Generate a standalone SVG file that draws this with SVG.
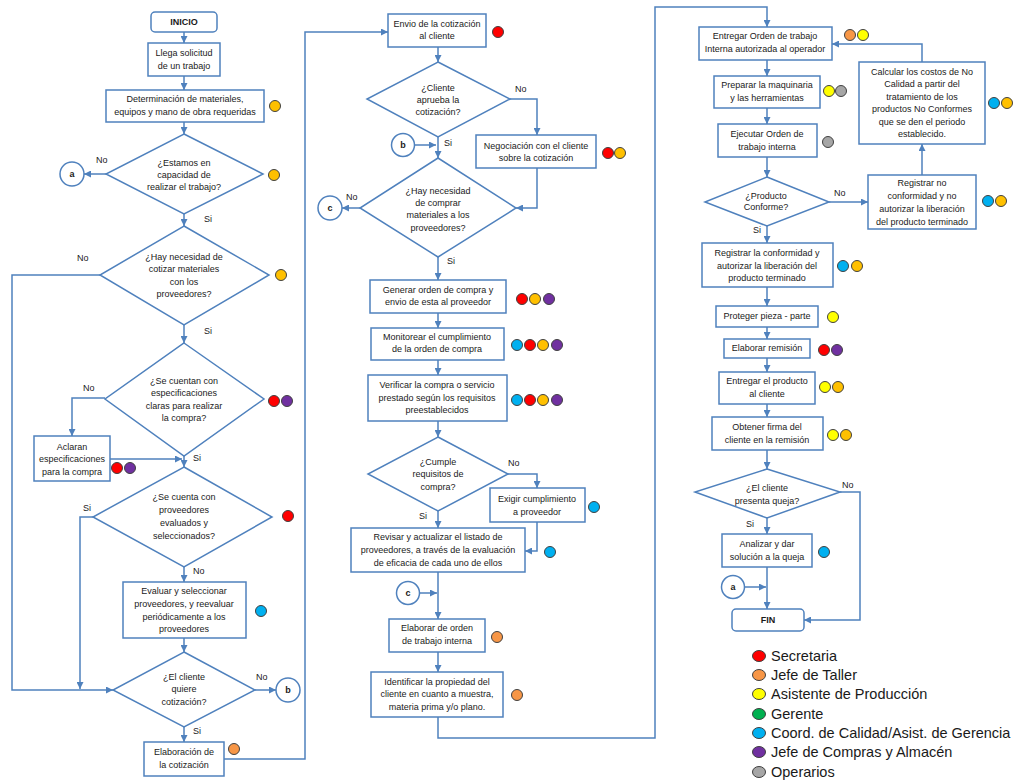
<svg xmlns="http://www.w3.org/2000/svg" width="1014" height="781" viewBox="0 0 1014 781">
  <style>
    .box { fill: #ffffff; stroke: #4F81BD; stroke-width: 1.5; }
    .con { fill: none; stroke: #4F81BD; stroke-width: 1.5; }
    .t { font-family: "Liberation Sans", Arial, sans-serif; font-size: 9px; fill: #1a1a1a; text-anchor: middle; }
    .b { font-weight: bold; }
    .lbl { font-family: "Liberation Sans", Arial, sans-serif; font-size: 9px; fill: #1a1a1a; }
    .leg { font-family: "Liberation Sans", Arial, sans-serif; font-size: 14.5px; fill: #1a1a1a; }
    .dot { stroke: #404040; stroke-width: 1; }
    .red { fill: #FF0000; }
    .gold { fill: #FFC000; }
    .org { fill: #F79646; }
    .yel { fill: #FFFF00; }
    .grn { fill: #00B050; }
    .blu { fill: #00B0F0; }
    .pur { fill: #7030A0; }
    .gry { fill: #A6A6A6; }
  </style>
  <defs>
    <marker id="ah" markerWidth="7" markerHeight="7" refX="7" refY="3.5" orient="auto" markerUnits="userSpaceOnUse">
      <path d="M0,0 L7,3.5 L0,7 z" fill="#4F81BD"/>
    </marker>
  </defs>

  <rect width="1014" height="781" fill="#ffffff"/>

  <!-- connectors -->
  <g id="connectors" class="con" marker-end="url(#ah)">
    <path d="M184,32 V43"/>
    <path d="M184,76 V90"/>
    <path d="M184,122 V134"/>
    <path d="M106,174 H84"/>
    <path d="M184,214 V226"/>
    <path d="M100,275 H12 V690 H113"/>
    <path d="M184,325 V343"/>
    <path d="M105,398 H72 V436"/>
    <path d="M110,459 H182"/>
    <path d="M184,456 V467"/>
    <path d="M93,517 H80 V689"/>
    <path d="M184,567 V582"/>
    <path d="M184,638 V652"/>
    <path d="M255,690 H276"/>
    <path d="M184,727 V742"/>
    <path d="M224,759 H305 V32 H388"/>

    <path d="M438,47 V62"/>
    <path d="M510,99 H537 V135"/>
    <path d="M438,137 V158"/>
    <path d="M415,145 H436"/>
    <path d="M537,168 V208 H516"/>
    <path d="M360,208 H342"/>
    <path d="M438,257 V280"/>
    <path d="M438,313 V328"/>
    <path d="M438,360 V375"/>
    <path d="M438,421 V437"/>
    <path d="M508,474 H537 V488"/>
    <path d="M537,522 V551 H525"/>
    <path d="M438,511 V528"/>
    <path d="M438,572 V619"/>
    <path d="M419,593 H437"/>
    <path d="M438,652 V672"/>
    <path d="M438,717 V738 H655 V7 H767 V27"/>

    <path d="M767,60 V76"/>
    <path d="M767,108 V124"/>
    <path d="M767,157 V177"/>
    <path d="M829,202 H868"/>
    <path d="M922,175 V144"/>
    <path d="M922,62 V44 H832"/>
    <path d="M767,226 V243"/>
    <path d="M767,287 V306"/>
    <path d="M767,327 V339"/>
    <path d="M767,358 V372"/>
    <path d="M767,404 V417"/>
    <path d="M767,450 V469"/>
    <path d="M840,492 H860 V620 H804"/>
    <path d="M767,518 V534"/>
    <path d="M767,567 V609"/>
    <path d="M745,587 H766"/>
  </g>

  <!-- branch labels -->
  <g id="labels" class="lbl">
    <text x="96" y="163">No</text>
    <text x="204" y="222">Si</text>
    <text x="77" y="261">No</text>
    <text x="204" y="334">Si</text>
    <text x="83" y="391">No</text>
    <text x="193" y="461">Si</text>
    <text x="83" y="511">Si</text>
    <text x="193" y="574">No</text>
    <text x="256" y="680">No</text>
    <text x="193" y="734">Si</text>
    <text x="515" y="92">No</text>
    <text x="444" y="146">Si</text>
    <text x="346" y="200">No</text>
    <text x="447" y="264">Si</text>
    <text x="508" y="466">No</text>
    <text x="419" y="519">Si</text>
    <text x="834" y="196">No</text>
    <text x="753" y="233">Si</text>
    <text x="842" y="488">No</text>
    <text x="746" y="527">Si</text>
  </g>

  <!-- left column -->
  <g id="inicio">
    <rect class="box" x="151" y="12" width="66" height="20" rx="4"/>
    <text class="t b" x="184" y="25">INICIO</text>
  </g>
  <g id="llega">
    <rect class="box" x="148" y="43" width="72" height="33"/>
    <text class="t" x="184" y="56">Llega solicitud</text>
    <text class="t" x="184" y="69">de un trabajo</text>
  </g>
  <g id="determinacion">
    <rect class="box" x="106" y="90" width="158" height="32"/>
    <text class="t" x="185" y="102">Determinación de materiales,</text>
    <text class="t" x="185" y="115">equipos y mano de obra requeridas</text>
    <circle class="dot gold" cx="275" cy="106" r="5.5"/>
  </g>
  <g id="capacidad">
    <polygon class="box" points="184,134 263,174 184,214 106,174"/>
    <text class="t" x="184" y="166">¿Estamos en</text>
    <text class="t" x="184" y="178">capacidad de</text>
    <text class="t" x="184" y="190">realizar el trabajo?</text>
    <circle class="dot gold" cx="274" cy="175" r="5.5"/>
  </g>
  <g id="conector-a1">
    <circle class="box" cx="72" cy="174" r="12"/>
    <text class="t b" x="72" y="177">a</text>
  </g>
  <g id="cotizar-materiales">
    <polygon class="box" points="184,226 269,275 184,325 100,275"/>
    <text class="t" x="184" y="260">¿Hay necesidad de</text>
    <text class="t" x="184" y="272">cotizar materiales</text>
    <text class="t" x="184" y="285">con los</text>
    <text class="t" x="184" y="297">proveedores?</text>
    <circle class="dot gold" cx="281" cy="275" r="5.5"/>
  </g>
  <g id="especificaciones">
    <polygon class="box" points="184,343 264,399 184,456 105,399"/>
    <text class="t" x="184" y="384">¿Se cuentan con</text>
    <text class="t" x="184" y="396">especificaciones</text>
    <text class="t" x="184" y="409">claras para realizar</text>
    <text class="t" x="184" y="421">la compra?</text>
    <circle class="dot red" cx="274" cy="401" r="5.5"/>
    <circle class="dot pur" cx="287" cy="401" r="5.5"/>
  </g>
  <g id="aclaran">
    <rect class="box" x="34" y="436" width="76" height="45"/>
    <text class="t" x="72" y="450">Aclaran</text>
    <text class="t" x="72" y="462">especificaciones</text>
    <text class="t" x="72" y="475">para la compra</text>
    <circle class="dot red" cx="117" cy="468" r="5.5"/>
    <circle class="dot pur" cx="130" cy="468" r="5.5"/>
  </g>
  <g id="proveedores-evaluados">
    <polygon class="box" points="184,467 272,517 184,567 93,517"/>
    <text class="t" x="184" y="500">¿Se cuenta con</text>
    <text class="t" x="184" y="513">proveedores</text>
    <text class="t" x="184" y="526">evaluados y</text>
    <text class="t" x="184" y="539">seleccionados?</text>
    <circle class="dot red" cx="288" cy="516" r="5.5"/>
  </g>
  <g id="evaluar">
    <rect class="box" x="123" y="582" width="123" height="56"/>
    <text class="t" x="184" y="594">Evaluar y seleccionar</text>
    <text class="t" x="184" y="607">proveedores, y reevaluar</text>
    <text class="t" x="184" y="620">periódicamente a los</text>
    <text class="t" x="184" y="632">proveedores</text>
    <circle class="dot blu" cx="261" cy="611" r="5.5"/>
  </g>
  <g id="quiere-cotizacion">
    <polygon class="box" points="184,652 255,690 184,727 113,690"/>
    <text class="t" x="184" y="680">¿El cliente</text>
    <text class="t" x="184" y="692">quiere</text>
    <text class="t" x="184" y="705">cotización?</text>
  </g>
  <g id="conector-b1">
    <circle class="box" cx="288" cy="690" r="12"/>
    <text class="t b" x="288" y="693">b</text>
  </g>
  <g id="elaboracion">
    <rect class="box" x="144" y="742" width="80" height="34"/>
    <text class="t" x="184" y="755">Elaboración de</text>
    <text class="t" x="184" y="768">la cotización</text>
    <circle class="dot org" cx="234" cy="749" r="5.5"/>
  </g>

  <!-- middle column -->
  <g id="envio">
    <rect class="box" x="388" y="14" width="98" height="33"/>
    <text class="t" x="437" y="27">Envio de la cotización</text>
    <text class="t" x="437" y="39">al cliente</text>
    <circle class="dot red" cx="498" cy="32" r="5.5"/>
  </g>
  <g id="aprueba">
    <polygon class="box" points="438,62 510,99 438,137 367,99"/>
    <text class="t" x="438" y="91">¿Cliente</text>
    <text class="t" x="438" y="103">aprueba la</text>
    <text class="t" x="438" y="115">cotización?</text>
  </g>
  <g id="negociacion">
    <rect class="box" x="476" y="135" width="120" height="33"/>
    <text class="t" x="536" y="149">Negociación con el cliente</text>
    <text class="t" x="536" y="161">sobre la cotización</text>
    <circle class="dot red" cx="608" cy="153" r="5.5"/>
    <circle class="dot gold" cx="620" cy="153" r="5.5"/>
  </g>
  <g id="conector-b2">
    <circle class="box" cx="403" cy="145" r="11.5"/>
    <text class="t b" x="403" y="148">b</text>
  </g>
  <g id="comprar-materiales">
    <polygon class="box" points="438,158 516,208 438,257 360,208"/>
    <text class="t" x="438" y="194">¿Hay necesidad</text>
    <text class="t" x="438" y="206">de comprar</text>
    <text class="t" x="438" y="218">materiales a los</text>
    <text class="t" x="438" y="231">proveedores?</text>
  </g>
  <g id="conector-c1">
    <circle class="box" cx="330" cy="208" r="12"/>
    <text class="t b" x="330" y="211">c</text>
  </g>
  <g id="generar">
    <rect class="box" x="370" y="280" width="136" height="33"/>
    <text class="t" x="438" y="293">Generar orden de compra y</text>
    <text class="t" x="438" y="305">envio de esta al proveedor</text>
    <circle class="dot red" cx="522" cy="299" r="5.5"/>
    <circle class="dot gold" cx="535" cy="299" r="5.5"/>
    <circle class="dot pur" cx="549" cy="299" r="5.5"/>
  </g>
  <g id="monitorear">
    <rect class="box" x="371" y="328" width="133" height="32"/>
    <text class="t" x="437" y="340">Monitorear el cumplimiento</text>
    <text class="t" x="437" y="352">de la orden de compra</text>
    <circle class="dot blu" cx="517" cy="345" r="5.5"/>
    <circle class="dot red" cx="530" cy="345" r="5.5"/>
    <circle class="dot gold" cx="543" cy="345" r="5.5"/>
    <circle class="dot pur" cx="557" cy="345" r="5.5"/>
  </g>
  <g id="verificar">
    <rect class="box" x="368" y="375" width="139" height="46"/>
    <text class="t" x="437" y="388">Verificar la compra o servicio</text>
    <text class="t" x="437" y="401">prestado según los requisitos</text>
    <text class="t" x="437" y="413">preestablecidos</text>
    <circle class="dot blu" cx="517" cy="400" r="5.5"/>
    <circle class="dot red" cx="530" cy="400" r="5.5"/>
    <circle class="dot gold" cx="543" cy="400" r="5.5"/>
    <circle class="dot pur" cx="557" cy="400" r="5.5"/>
  </g>
  <g id="cumple">
    <polygon class="box" points="438,437 508,474 438,511 368,474"/>
    <text class="t" x="438" y="465">¿Cumple</text>
    <text class="t" x="438" y="477">requisitos de</text>
    <text class="t" x="438" y="490">compra?</text>
  </g>
  <g id="exigir">
    <rect class="box" x="490" y="488" width="95" height="34"/>
    <text class="t" x="537" y="502">Exigir cumplimiento</text>
    <text class="t" x="537" y="515">a proveedor</text>
    <circle class="dot blu" cx="594" cy="507" r="5.5"/>
  </g>
  <g id="revisar">
    <rect class="box" x="351" y="528" width="174" height="44"/>
    <text class="t" x="438" y="540">Revisar y actualizar el listado de</text>
    <text class="t" x="438" y="553">proveedores, a través de la evaluación</text>
    <text class="t" x="438" y="566">de eficacia de cada uno de ellos</text>
    <circle class="dot blu" cx="550" cy="552" r="5.5"/>
  </g>
  <g id="conector-c2">
    <circle class="box" cx="408" cy="593" r="11.5"/>
    <text class="t b" x="408" y="596">c</text>
  </g>
  <g id="elaborar-orden">
    <rect class="box" x="389" y="619" width="96" height="33"/>
    <text class="t" x="437" y="631">Elaborar de orden</text>
    <text class="t" x="437" y="644">de trabajo interna</text>
    <circle class="dot org" cx="497" cy="637" r="5.5"/>
  </g>
  <g id="identificar">
    <rect class="box" x="371" y="672" width="132" height="45"/>
    <text class="t" x="437" y="685">Identificar la propiedad del</text>
    <text class="t" x="437" y="697">cliente en cuanto a muestra,</text>
    <text class="t" x="437" y="710">materia prima y/o plano.</text>
    <circle class="dot org" cx="517" cy="695" r="5.5"/>
  </g>

  <!-- right column -->
  <g id="entregar-orden">
    <rect class="box" x="699" y="27" width="133" height="33"/>
    <text class="t" x="765" y="39">Entregar Orden de trabajo</text>
    <text class="t" x="765" y="52">Interna autorizada al operador</text>
    <circle class="dot org" cx="850" cy="35" r="5.5"/>
    <circle class="dot yel" cx="863" cy="35" r="5.5"/>
  </g>
  <g id="preparar">
    <rect class="box" x="714" y="76" width="106" height="32"/>
    <text class="t" x="767" y="88">Preparar la maquinaria</text>
    <text class="t" x="767" y="101">y las herramientas</text>
    <circle class="dot yel" cx="829" cy="91" r="5.5"/>
    <circle class="dot gry" cx="841" cy="91" r="5.5"/>
  </g>
  <g id="ejecutar">
    <rect class="box" x="718" y="124" width="99" height="33"/>
    <text class="t" x="767" y="137">Ejecutar Orden de</text>
    <text class="t" x="767" y="150">trabajo interna</text>
    <circle class="dot gry" cx="828" cy="142" r="5.5"/>
  </g>
  <g id="producto-conforme">
    <polygon class="box" points="767,177 829,202 767,226 705,202"/>
    <text class="t" x="766" y="199">¿Producto</text>
    <text class="t" x="766" y="210">Conforme?</text>
  </g>
  <g id="registrar-no">
    <rect class="box" x="868" y="175" width="108" height="54"/>
    <text class="t" x="922" y="186">Registrar no</text>
    <text class="t" x="922" y="199">conformidad y no</text>
    <text class="t" x="922" y="212">autorizar la liberación</text>
    <text class="t" x="922" y="225">del producto terminado</text>
    <circle class="dot blu" cx="988" cy="201" r="5.5"/>
    <circle class="dot gold" cx="1001" cy="201" r="5.5"/>
  </g>
  <g id="calcular">
    <rect class="box" x="859" y="62" width="126" height="82"/>
    <text class="t" x="922" y="75">Calcular los costos de No</text>
    <text class="t" x="922" y="87">Calidad a partir del</text>
    <text class="t" x="922" y="100">tratamiento de los</text>
    <text class="t" x="922" y="112">productos No Conformes</text>
    <text class="t" x="922" y="125">que se den el periodo</text>
    <text class="t" x="922" y="137">establecido.</text>
    <circle class="dot blu" cx="994" cy="103" r="5.5"/>
    <circle class="dot gold" cx="1007" cy="103" r="5.5"/>
  </g>
  <g id="registrar-conformidad">
    <rect class="box" x="702" y="243" width="131" height="44"/>
    <text class="t" x="767" y="256">Registrar la conformidad  y</text>
    <text class="t" x="767" y="269">autorizar la liberación del</text>
    <text class="t" x="767" y="281">producto terminado</text>
    <circle class="dot blu" cx="843" cy="266" r="5.5"/>
    <circle class="dot gold" cx="857" cy="266" r="5.5"/>
  </g>
  <g id="proteger">
    <rect class="box" x="716" y="306" width="102" height="21"/>
    <text class="t" x="767" y="319">Proteger pieza - parte</text>
    <circle class="dot yel" cx="833" cy="317" r="5.5"/>
  </g>
  <g id="remision">
    <rect class="box" x="724" y="339" width="86" height="19"/>
    <text class="t" x="767" y="351">Elaborar remisión</text>
    <circle class="dot red" cx="824" cy="350" r="5.5"/>
    <circle class="dot pur" cx="837" cy="350" r="5.5"/>
  </g>
  <g id="entregar-producto">
    <rect class="box" x="719" y="372" width="96" height="32"/>
    <text class="t" x="767" y="384">Entregar el producto</text>
    <text class="t" x="767" y="397">al cliente</text>
    <circle class="dot yel" cx="825" cy="387" r="5.5"/>
    <circle class="dot gold" cx="838" cy="387" r="5.5"/>
  </g>
  <g id="obtener-firma">
    <rect class="box" x="712" y="417" width="111" height="33"/>
    <text class="t" x="767" y="430">Obtener firma del</text>
    <text class="t" x="767" y="443">cliente en la remisión</text>
    <circle class="dot yel" cx="833" cy="435" r="5.5"/>
    <circle class="dot gold" cx="846" cy="435" r="5.5"/>
  </g>
  <g id="queja">
    <polygon class="box" points="767,469 840,492 767,518 695,492"/>
    <text class="t" x="767" y="491">¿El cliente</text>
    <text class="t" x="767" y="504">presenta queja?</text>
  </g>
  <g id="analizar">
    <rect class="box" x="722" y="534" width="90" height="33"/>
    <text class="t" x="767" y="547">Analizar y dar</text>
    <text class="t" x="767" y="560">solución a la queja</text>
    <circle class="dot blu" cx="824" cy="552" r="5.5"/>
  </g>
  <g id="conector-a2">
    <circle class="box" cx="733" cy="587" r="11.5"/>
    <text class="t b" x="733" y="590">a</text>
  </g>
  <g id="fin">
    <rect class="box" x="732" y="609" width="72" height="22" rx="4"/>
    <text class="t b" x="768" y="623">FIN</text>
  </g>

  <!-- legend of roles -->
  <g id="legend">
    <ellipse class="dot red" cx="759" cy="656" rx="6.5" ry="5.5"/>
    <text class="leg" x="771" y="661">Secretaria</text>
    <ellipse class="dot org" cx="759" cy="675" rx="6.5" ry="5.5"/>
    <text class="leg" x="771" y="680">Jefe de Taller</text>
    <ellipse class="dot yel" cx="759" cy="694" rx="6.5" ry="5.5"/>
    <text class="leg" x="771" y="699">Asistente de Producción</text>
    <ellipse class="dot grn" cx="759" cy="714" rx="6.5" ry="5.5"/>
    <text class="leg" x="771" y="719">Gerente</text>
    <ellipse class="dot blu" cx="759" cy="733" rx="6.5" ry="5.5"/>
    <text class="leg" x="771" y="738">Coord. de Calidad/Asist. de Gerencia</text>
    <ellipse class="dot pur" cx="759" cy="752" rx="6.5" ry="5.5"/>
    <text class="leg" x="771" y="757">Jefe de Compras y Almacén</text>
    <ellipse class="dot gry" cx="759" cy="772" rx="6.5" ry="5.5"/>
    <text class="leg" x="771" y="777">Operarios</text>
  </g>
</svg>
